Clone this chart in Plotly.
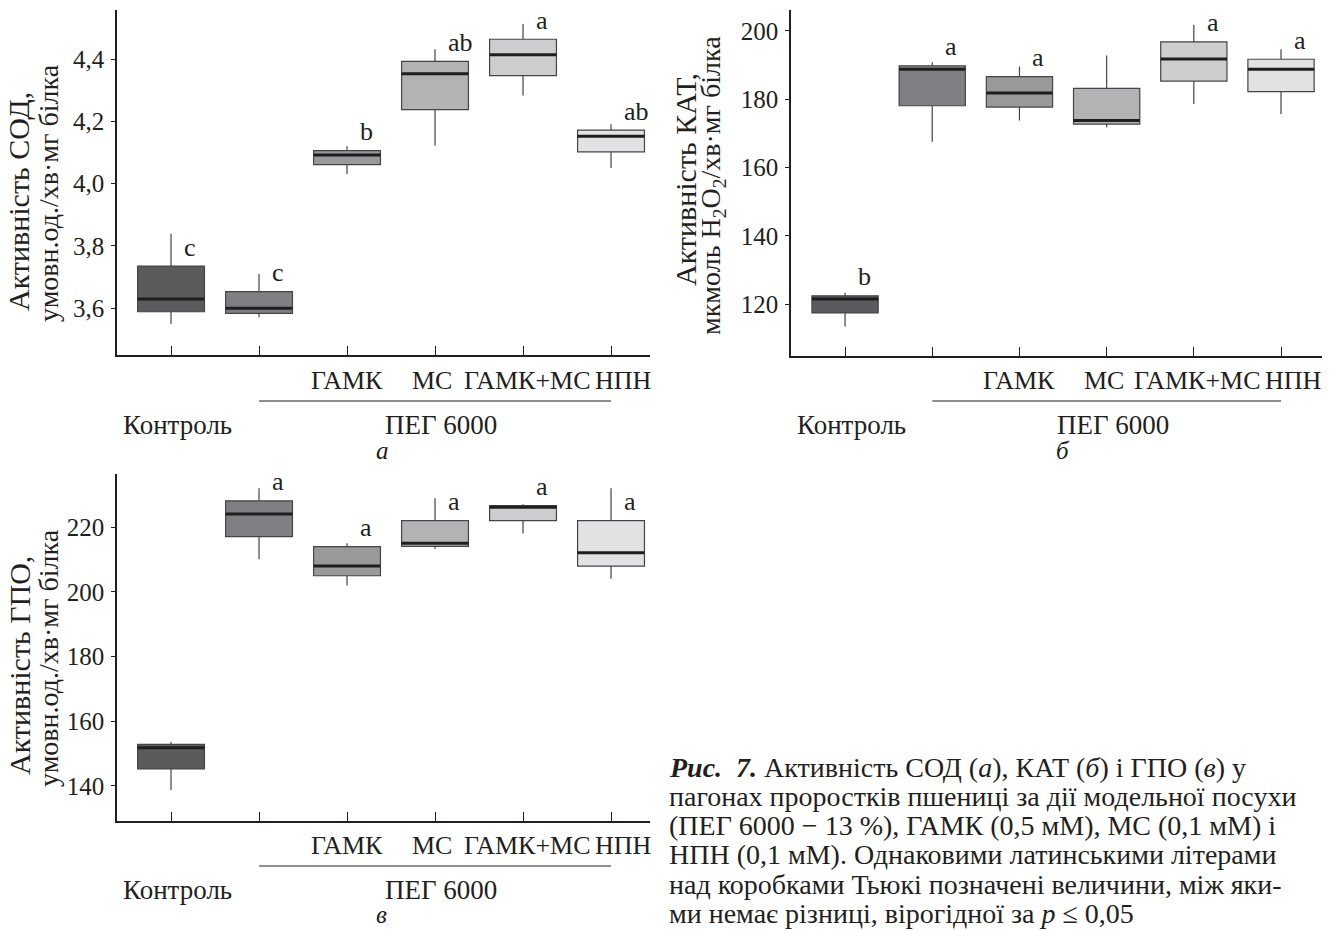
import plotly.graph_objects as go

categories = ["Контроль", "ПЕГ 6000", "ГАМК", "МС", "ГАМК+МС", "НПН"]
box_colors = ["#5b5b5e", "#808084", "#99999c", "#b3b3b6", "#cdcdcf", "#e2e2e4"]

# Panel a: SOD
sod_lower = [3.549, 3.570, 4.031, 4.122, 4.283, 4.050]
sod_q1 = [3.588, 3.583, 4.061, 4.238, 4.347, 4.102]
sod_median = [3.629, 3.599, 4.092, 4.353, 4.414, 4.152]
sod_q3 = [3.735, 3.653, 4.106, 4.393, 4.464, 4.172]
sod_upper = [3.839, 3.709, 4.120, 4.432, 4.513, 4.191]
sod_letters = ["c", "c", "b", "ab", "a", "ab"]
sod_ticks = [3.6, 3.8, 4.0, 4.2, 4.4]

# Panel b: CAT
kat_lower = [113.5, 167.6, 173.8, 171.8, 178.6, 175.7]
kat_q1 = [117.5, 178.1, 177.7, 172.7, 185.3, 182.2]
kat_median = [121.6, 188.8, 181.8, 173.8, 191.8, 188.8]
kat_q3 = [122.5, 189.8, 186.6, 183.2, 196.8, 191.7]
kat_upper = [123.4, 190.8, 189.6, 192.8, 201.8, 194.6]
kat_letters = ["b", "a", "a", "", "a", "a"]
kat_ticks = [120, 140, 160, 180, 200]

# Panel c: GPO
gpo_lower = [138.7, 210.1, 202.0, 213.3, 218.1, 204.1]
gpo_q1 = [145.2, 217.1, 205.0, 214.1, 222.1, 208.0]
gpo_median = [151.8, 224.1, 208.0, 215.1, 226.2, 212.1]
gpo_q3 = [152.8, 228.2, 214.0, 222.1, 226.7, 222.1]
gpo_upper = [153.6, 232.1, 215.1, 229.0, 227.1, 232.1]
gpo_letters = ["", "a", "a", "a", "a", "a"]
gpo_ticks = [140, 160, 180, 200, 220]

FONT = "Liberation Serif"
INK = "#231f20"
BOX_W = 0.76

W, H = 1337, 930


def px_x(p):
    return p / W


def px_y(p):
    return 1 - p / H


fig = go.Figure()

panels = [
    dict(xa="x", ya="y", lo=sod_lower, q1=sod_q1, md=sod_median, q3=sod_q3, up=sod_upper,
         letters=sod_letters),
    dict(xa="x2", ya="y2", lo=kat_lower, q1=kat_q1, md=kat_median, q3=kat_q3, up=kat_upper,
         letters=kat_letters),
    dict(xa="x3", ya="y3", lo=gpo_lower, q1=gpo_q1, md=gpo_median, q3=gpo_q3, up=gpo_upper,
         letters=gpo_letters),
]

annotations = []
shapes = []

for p in panels:
    for i, cat in enumerate(categories):
        fig.add_trace(go.Box(
            x=[i], q1=[p["q1"][i]], median=[p["md"][i]], q3=[p["q3"][i]],
            lowerfence=[p["lo"][i]], upperfence=[p["up"][i]],
            xaxis=p["xa"], yaxis=p["ya"], name=cat,
            fillcolor=box_colors[i], line=dict(color="#454545", width=1.2),
            width=BOX_W, whiskerwidth=0, showlegend=False, hoverinfo="skip",
        ))
        fig.add_trace(go.Scatter(
            x=[i - BOX_W / 2, i + BOX_W / 2], y=[p["md"][i], p["md"][i]],
            mode="lines", line=dict(color="#1e1e1e", width=3),
            xaxis=p["xa"], yaxis=p["ya"], showlegend=False, hoverinfo="skip",
        ))
        if p["letters"][i]:
            annotations.append(dict(
                x=i, y=p["q3"][i], xref=p["xa"], yref=p["ya"], text=p["letters"][i],
                showarrow=False, xanchor="left", yanchor="middle", xshift=11, yshift=19,
                font=dict(family=FONT, size=26, color=INK),
            ))

common_x = dict(showline=True, linecolor=INK, linewidth=1.5, ticks="inside", ticklen=9,
                tickcolor=INK, tickwidth=1, showticklabels=False, showgrid=False,
                zeroline=False, tickvals=list(range(len(categories))))
common_y = dict(showline=True, linecolor=INK, linewidth=1.5, ticks="outside", ticklen=4,
                tickcolor=INK, showgrid=False, zeroline=False,
                tickfont=dict(family=FONT, size=25, color=INK), ticklabelstandoff=2)

layout_axes = dict(
    xaxis=dict(common_x, domain=[px_x(117), px_x(650)], range=[-0.614, 5.443], anchor="y"),
    yaxis=dict(common_y, domain=[px_y(355), px_y(10)], range=[3.449, 4.558], anchor="x",
               tickvals=sod_ticks, tickformat=".1f"),
    xaxis2=dict(common_x, domain=[px_x(791), px_x(1322)], range=[-0.62, 5.47], anchor="y2"),
    yaxis2=dict(common_y, domain=[px_y(356), px_y(10)], range=[104.9, 206.1], anchor="x2",
                tickvals=kat_ticks, tickformat="d"),
    xaxis3=dict(common_x, domain=[px_x(117), px_x(650)], range=[-0.614, 5.443], anchor="y3"),
    yaxis3=dict(common_y, domain=[px_y(821), px_y(474)], range=[129.1, 236.5], anchor="x3",
                tickvals=gpo_ticks, tickformat="d"),
)

label_shift = {2: 0, 3: -3, 4: 4, 5: 12}
label_rows = [
    dict(xa="x", lab_y=380, line_y=401, grp_y=425, let_y=450, let_x=382, letter="а"),
    dict(xa="x2", lab_y=380, line_y=401, grp_y=425, let_y=451, let_x=1063, letter="б"),
    dict(xa="x3", lab_y=845, line_y=866, grp_y=890, let_y=914, let_x=381, letter="в"),
]
for r in label_rows:
    for i in range(2, len(categories)):
        annotations.append(dict(
            x=i, y=px_y(r["lab_y"]), xref=r["xa"], yref="paper", text=categories[i],
            showarrow=False, xanchor="center", yanchor="middle", xshift=label_shift[i],
            font=dict(family=FONT, size=26, color=INK),
        ))
    shapes.append(dict(type="line", xref=r["xa"], yref="paper", x0=1, x1=len(categories) - 1,
                       y0=px_y(r["line_y"]), y1=px_y(r["line_y"]),
                       line=dict(color=INK, width=1.2)))
    annotations.append(dict(
        x=0, y=px_y(r["grp_y"]), xref=r["xa"], yref="paper", text=categories[0],
        showarrow=False, xanchor="center", yanchor="middle", xshift=6,
        font=dict(family=FONT, size=27, color=INK)))
    annotations.append(dict(
        x=(1 + len(categories) - 1) / 2, y=px_y(r["grp_y"]), xref=r["xa"], yref="paper",
        text=categories[1], showarrow=False, xanchor="center", yanchor="middle", xshift=6,
        font=dict(family=FONT, size=27, color=INK)))
    annotations.append(dict(
        x=px_x(r["let_x"]), y=px_y(r["let_y"]), xref="paper", yref="paper",
        text="<i>" + r["letter"] + "</i>", showarrow=False, xanchor="center", yanchor="middle",
        font=dict(family=FONT, size=25, color=INK)))

ytitles = [
    (19, 202, "Активність СОД,", 30), (48, 193, "умовн.од./хв·мг білка", 28),
    (685, 180, "Активність КАТ,", 30), (713, 186, "мкмоль H<sub>2</sub>O<sub>2</sub>/хв·мг білка", 28),
    (19, 666, "Активність ГПО,", 30), (48, 658, "умовн.од./хв·мг білка", 28),
]
for x, y, t, s in ytitles:
    annotations.append(dict(x=px_x(x), y=px_y(y), xref="paper", yref="paper", text=t,
                            textangle=-90, showarrow=False, xanchor="center", yanchor="middle",
                            font=dict(family=FONT, size=s, color=INK)))

caption = [
    "<b><i>Рис.  7.</i></b> Активність СОД (<i>а</i>), КАТ (<i>б</i>) і ГПО (<i>в</i>) у",
    "пагонах проростків пшениці за дії модельної посухи",
    "(ПЕГ 6000 − 13 %), ГАМК (0,5 мМ), МС (0,1 мМ) і",
    "НПН (0,1 мМ). Однаковими латинськими літерами",
    "над коробками Тьюкі позначені величини, між яки-",
    "ми немає різниці, вірогідної за <i>p</i> ≤ 0,05",
]
for k, line in enumerate(caption):
    annotations.append(dict(x=px_x(667), y=px_y(767 + 29.3 * k), xref="paper", yref="paper",
                            text=line, showarrow=False, xanchor="left", yanchor="middle",
                            font=dict(family=FONT, size=28, color=INK)))

fig.update_layout(
    width=W, height=H, margin=dict(l=0, r=0, t=0, b=0),
    paper_bgcolor="white", plot_bgcolor="white", separators=", ",
    annotations=annotations, shapes=shapes, showlegend=False,
    **layout_axes,
)

fig.write_html("out.html", config={"displayModeBar": False},
               post_script="document.body.style.margin='0';document.body.style.overflow='hidden';")
